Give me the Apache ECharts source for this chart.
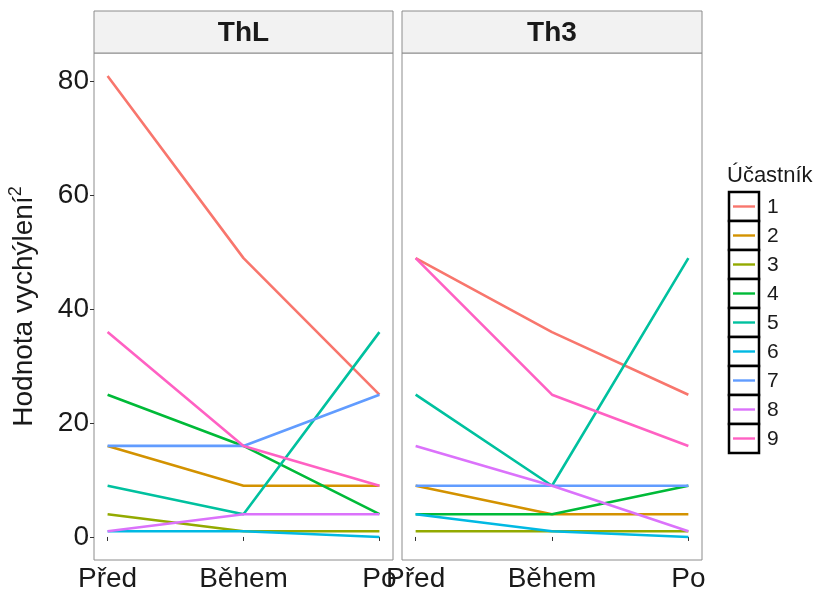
<!DOCTYPE html>
<html><head><meta charset="utf-8">
<script src="https://cdn.jsdelivr.net/npm/echarts@6/dist/echarts.min.js"></script>
<style>html,body{margin:0;padding:0;background:#fff}#c{width:821px;height:594px}</style>
</head><body><div id="c"></div>
<script>
const categories = ['Před', 'Během', 'Po'];
const panels = ['ThL', 'Th3'];
const participants = ['1','2','3','4','5','6','7','8','9'];
const colors = ['#F8766D','#D39200','#93AA00','#00BA38','#00C19F','#00B9E3','#619CFF','#DB72FB','#FF61C3'];
const yTicks = [0, 20, 40, 60, 80];
// ThL values per participant (Před, Během, Po)
const thL = [
  [81, 49, 25],
  [16, 9, 9],
  [4, 1, 1],
  [25, 16, 4],
  [9, 4, 36],
  [1, 1, 0],
  [16, 16, 25],
  [1, 4, 4],
  [36, 16, 9]
];
// Th3 values per participant
const th3 = [
  [49, 36, 25],
  [9, 4, 4],
  [1, 1, 1],
  [4, 4, 9],
  [25, 9, 49],
  [4, 1, 0],
  [9, 9, 9],
  [16, 9, 1],
  [49, 25, 16]
];
const panelData = [thL, th3];

const FONT = 'Liberation Sans, Arial, sans-serif';
const TXT = '#1a1a1a';
const chart = echarts.init(document.getElementById('c'));
const grids = [
  {left: 94, top: 53, width: 299, height: 507},
  {left: 402, top: 53, width: 300, height: 507}
];
const xAxes = grids.map((g, i) => ({
  type: 'value', gridIndex: i, min: 0.9, max: 3.1,
  axisLine: {show: false},
  splitLine: {show: false},
  axisTick: {show: true, customValues: [1,2,3], length: 4, lineStyle: {color: '#333'}},
  axisLabel: {customValues: [1,2,3], formatter: v => categories[Math.round(v) - 1],
    fontSize: 28, color: TXT, fontFamily: FONT, margin: 5}
}));
const yAxes = grids.map((g, i) => ({
  type: 'value', gridIndex: i, min: -4.05, max: 85.05,
  axisLine: {show: false},
  splitLine: {show: false},
  axisTick: {show: i === 0, customValues: yTicks, length: 4, lineStyle: {color: '#333'}},
  axisLabel: {show: i === 0, customValues: yTicks, fontSize: 28, color: TXT, fontFamily: FONT, margin: 5},
  name: i === 0 ? '{a|Hodnota vychýlení}{s|2}' : '',
  nameLocation: 'middle', nameGap: 53, nameRotate: 90,
  nameTextStyle: {rich: {
    a: {fontSize: 28, color: TXT, fontFamily: FONT, lineHeight: 34},
    s: {fontSize: 18, color: TXT, fontFamily: FONT, verticalAlign: 'top', lineHeight: 18}
  }}
}));
const series = [];
panelData.forEach((pd, pi) => {
  pd.forEach((vals, k) => {
    series.push({
      type: 'line', name: participants[k], xAxisIndex: pi, yAxisIndex: pi,
      data: vals.map((v, j) => [j + 1, v]),
      symbol: 'none', lineStyle: {width: 2.6, color: colors[k]}, itemStyle: {color: colors[k]},
      silent: true, animation: false
    });
  });
});
const graphic = [];
grids.forEach((g, i) => {
  graphic.push({type: 'rect', shape: {x: g.left, y: 11, width: g.width, height: 42},
    style: {fill: '#f2f2f2', stroke: '#8c8c8c', lineWidth: 1}});
  graphic.push({type: 'text', x: g.left + g.width / 2, y: 33,
    style: {text: panels[i], font: 'bold 28px ' + FONT, fill: TXT, align: 'center', verticalAlign: 'middle'}});
});
// legend
graphic.push({type: 'text', x: 727, y: 176, style: {text: 'Účastník', font: '22px ' + FONT, fill: TXT, verticalAlign: 'middle'}});
participants.forEach((p, k) => {
  const y0 = 192 + k * 29;
  graphic.push({type: 'rect', shape: {x: 729, y: y0, width: 30, height: 29}, style: {fill: '#fff', stroke: '#000', lineWidth: 2.5}});
  graphic.push({type: 'line', shape: {x1: 733, y1: y0 + 14.5, x2: 755, y2: y0 + 14.5}, style: {stroke: colors[k], lineWidth: 2.4}});
  graphic.push({type: 'text', x: 767, y: y0 + 15, style: {text: p, font: '21px ' + FONT, fill: TXT, verticalAlign: 'middle'}});
});
chart.setOption({
  animation: false,
  grid: grids.map(g => Object.assign({show: true, borderColor: '#8c8c8c', borderWidth: 1, backgroundColor: '#fff'}, g)),
  xAxis: xAxes, yAxis: yAxes, series: series, graphic: graphic
});
</script></body></html>
